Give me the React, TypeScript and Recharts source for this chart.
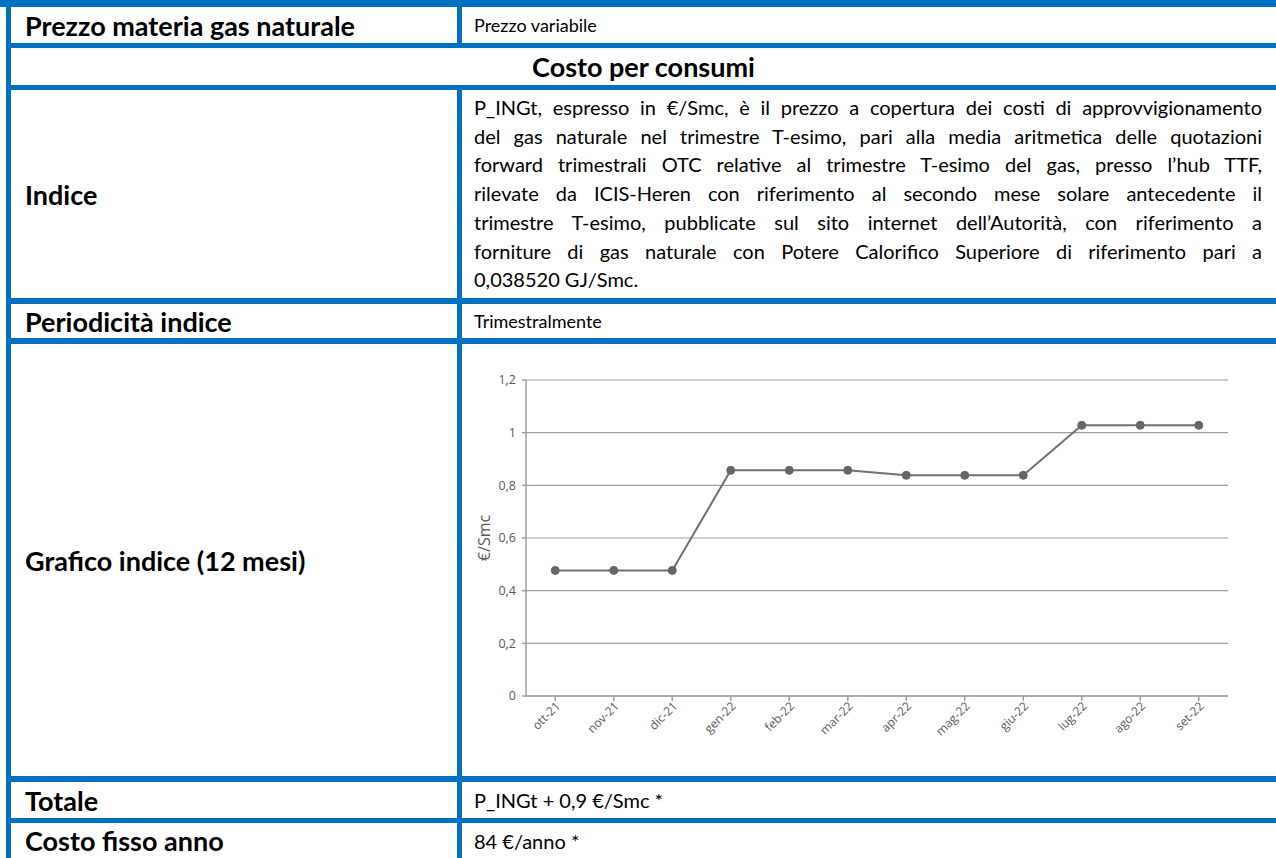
import React from 'react';
import { LineChart, Line, XAxis, YAxis, CartesianGrid, Label } from 'recharts';

const months = [
  'ott-21', 'nov-21', 'dic-21', 'gen-22', 'feb-22', 'mar-22',
  'apr-22', 'mag-22', 'giu-22', 'lug-22', 'ago-22', 'set-22',
];
const prices = [0.477, 0.477, 0.477, 0.857, 0.857, 0.857, 0.838, 0.838, 0.838, 1.028, 1.028, 1.028];
const yTicks = [0, 0.2, 0.4, 0.6, 0.8, 1, 1.2];

const indiceLines = [
  'P_INGt, espresso in €/Smc, è il prezzo a copertura dei costi di approvvigionamento',
  'del gas naturale nel trimestre T-esimo, pari alla media aritmetica delle quotazioni',
  'forward trimestrali OTC relative al trimestre T-esimo del gas, presso l’hub TTF,',
  'rilevate da ICIS-Heren con riferimento al secondo mese solare antecedente il',
  'trimestre T-esimo, pubblicate sul sito internet dell’Autorità, con riferimento a',
  'forniture di gas naturale con Potere Calorifico Superiore di riferimento pari a',
  '0,038520 GJ/Smc.',
];

const data = months.map((m, i) => ({ month: m, price: prices[i] }));

const BLUE = '#0070C0';
const AXIS = '#a0a0a0';
const TEXT_GRAY = '#595959';
const BODY_FONT = 'Lato, "Open Sans", sans-serif';
const CHART_FONT = '"Open Sans", sans-serif';

const comma = (v: number) => String(v).replace('.', ',');

function XTick({ x, y, payload }: any) {
  return (
    <text
      x={x + 3}
      y={y}
      dy={4}
      transform={`rotate(-45, ${x + 3}, ${y})`}
      textAnchor="end"
      fill={TEXT_GRAY}
      fontSize={12}
      fontFamily={CHART_FONT}
    >
      {payload.value}
    </text>
  );
}

function YTitle({ viewBox }: any) {
  const x = viewBox.x - 2;
  const y = viewBox.y + viewBox.height / 2;
  return (
    <text
      x={x}
      y={y}
      transform={`rotate(-90, ${x}, ${y})`}
      textAnchor="middle"
      dominantBaseline="central"
      fill={TEXT_GRAY}
      fontSize={16}
      fontFamily={CHART_FONT}
    >
      €/Smc
    </text>
  );
}

function Rule({ x, y, w, h }: { x: number; y: number; w: number; h: number }) {
  return <div style={{ position: 'absolute', left: x, top: y, width: w, height: h, background: BLUE }} />;
}

function Cell({ x, y, w, h, bold, size, center, children }: any) {
  return (
    <div
      style={{
        position: 'absolute',
        left: x,
        top: y,
        width: w,
        height: h,
        display: 'flex',
        alignItems: 'center',
        justifyContent: center ? 'center' : 'flex-start',
        fontFamily: BODY_FONT,
        fontWeight: bold ? 700 : 400,
        fontSize: size,
        color: '#000',
        whiteSpace: 'nowrap',
      }}
    >
      {children}
    </div>
  );
}

const LABEL_X = 25;
const VALUE_X = 474;
const LABEL_SIZE = 27;
const SMALL_SIZE = 18;
const VALUE_SIZE = 20;

export default function App() {
  return (
    <div
      style={{
        position: 'absolute',
        left: 0,
        top: 0,
        width: 1276,
        height: 858,
        overflow: 'hidden',
        background: '#fff',
      }}
    >
      {/* table rules */}
      <Rule x={0} y={0} w={1276} h={7} />
      <Rule x={6} y={0} w={5} h={858} />
      <Rule x={6} y={43} w={1270} h={5} />
      <Rule x={6} y={85} w={1270} h={5} />
      <Rule x={6} y={298} w={1270} h={6} />
      <Rule x={6} y={338} w={1270} h={6} />
      <Rule x={6} y={776} w={1270} h={6} />
      <Rule x={6} y={818} w={1270} h={5} />
      <Rule x={457} y={7} w={5} h={36} />
      <Rule x={457} y={90} w={5} h={768} />

      <Cell x={LABEL_X} y={7} w={420} h={36} bold size={LABEL_SIZE}>Prezzo materia gas naturale</Cell>
      <Cell x={VALUE_X} y={7} w={780} h={36} size={SMALL_SIZE}>Prezzo variabile</Cell>

      <Cell x={11} y={48} w={1265} h={37} bold center size={LABEL_SIZE}>Costo per consumi</Cell>

      <Cell x={LABEL_X} y={90} w={420} h={208} bold size={LABEL_SIZE}>Indice</Cell>
      <div
        style={{
          position: 'absolute',
          left: VALUE_X,
          top: 93,
          width: 788,
          fontFamily: BODY_FONT,
          fontSize: VALUE_SIZE,
          lineHeight: '28.7px',
          color: '#000',
        }}
      >
        {indiceLines.map((line, i) => (
          <div
            key={i}
            style={{
              textAlign: i === indiceLines.length - 1 ? 'left' : 'justify',
              textAlignLast: i === indiceLines.length - 1 ? 'left' : 'justify',
              whiteSpace: 'nowrap',
            } as React.CSSProperties}
          >
            {line}
          </div>
        ))}
      </div>

      <Cell x={LABEL_X} y={304} w={420} h={34} bold size={LABEL_SIZE}>Periodicità indice</Cell>
      <Cell x={VALUE_X} y={304} w={780} h={34} size={SMALL_SIZE}>Trimestralmente</Cell>

      <Cell x={LABEL_X} y={344} w={420} h={432} bold size={LABEL_SIZE}>Grafico indice (12 mesi)</Cell>
      <div style={{ position: 'absolute', left: 462, top: 344 }}>
        <LineChart
          width={814}
          height={432}
          data={data}
          margin={{ top: 36, right: 48, bottom: 20, left: 24 }}
        >
          <CartesianGrid vertical={false} stroke={AXIS} strokeWidth={1.2} />
          <XAxis
            dataKey="month"
            interval={0}
            padding={{ left: 29.25, right: 29.25 }}
            tick={<XTick />}
            tickSize={5}
            tickMargin={3}
            height={60}
            stroke={AXIS}
            strokeWidth={1.5}
          />
          <YAxis
            domain={[0, 1.2]}
            ticks={yTicks}
            tickFormatter={comma}
            width={40}
            tickSize={4}
            tickMargin={6}
            stroke={AXIS}
            strokeWidth={1.5}
            tick={{ fill: TEXT_GRAY, fontSize: 12.5, fontFamily: CHART_FONT }}
          >
            <Label content={<YTitle />} />
          </YAxis>
          <Line
            type="linear"
            dataKey="price"
            stroke="#707070"
            strokeWidth={2}
            dot={{ r: 4, fill: '#666', stroke: '#666', strokeWidth: 1 }}
            isAnimationActive={false}
          />
        </LineChart>
      </div>

      <Cell x={LABEL_X} y={782} w={420} h={36} bold size={LABEL_SIZE}>Totale</Cell>
      <Cell x={VALUE_X} y={782} w={780} h={36} size={VALUE_SIZE}>P_INGt + 0,9 €/Smc *</Cell>

      <Cell x={LABEL_X} y={823} w={420} h={35} bold size={LABEL_SIZE}>Costo fisso anno</Cell>
      <Cell x={VALUE_X} y={823} w={780} h={35} size={VALUE_SIZE}>84 €/anno *</Cell>
    </div>
  );
}
